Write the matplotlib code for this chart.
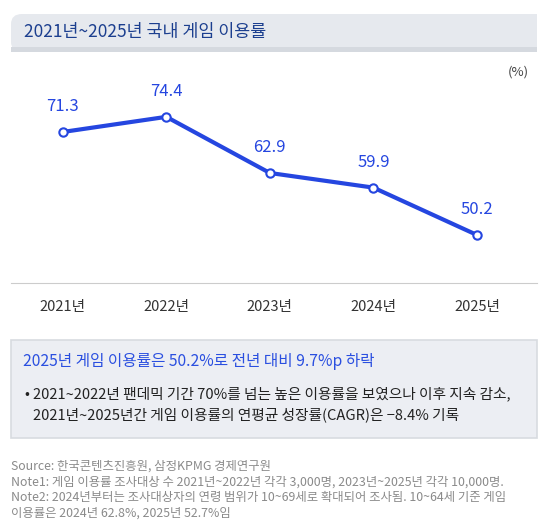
import matplotlib
matplotlib.use("Agg")
import matplotlib.pyplot as plt
from matplotlib.patches import FancyBboxPatch, Rectangle

plt.rcParams['font.family'] = ['Noto Sans CJK KR', 'DejaVu Sans']

years = ["2021년", "2022년", "2023년", "2024년", "2025년"]
values = [71.3, 74.4, 62.9, 59.9, 50.2]

W, H = 550, 528
fig = plt.figure(figsize=(5.5, 5.28), dpi=100)
fig.patch.set_facecolor("white")

def fx(x): return x / W
def fy(y): return 1 - y / H

# title bar
fig.patches.append(FancyBboxPatch((fx(11), fy(52)), fx(526), 38 / H,
    boxstyle="round,pad=0,rounding_size=0.02", transform=fig.transFigure,
    facecolor="#e6e9ee", edgecolor="none", mutation_aspect=0.96))
fig.patches.append(Rectangle((fx(500), fy(52)), fx(37), 38 / H, transform=fig.transFigure,
    facecolor="#e6e9ee", edgecolor="none"))
fig.patches.append(Rectangle((fx(11), fy(52)), fx(526), 5 / H, transform=fig.transFigure,
    facecolor="#d5d9df", edgecolor="none"))
fig.text(fx(24), fy(32), "2021년~2025년 국내 게임 이용률", fontsize=12.5, color="#1c3f8f",
         va="center", ha="left", fontweight="medium")

# chart
ax = fig.add_axes([fx(11), fy(283), fx(526), 193 / H])
ax.plot(range(len(values)), values, color="#2546e0", lw=3, marker="o", ms=6,
        mfc="white", mec="#2546e0", mew=1.5, zorder=3)
for i, v in enumerate(values):
    ax.text(i, v + 5.2, f"{v}", ha="center", va="center", fontsize=12, color="#2546e0")
ax.set_xlim(-0.5, 4.58)
ax.set_ylim(40.36, 79.9)
ax.set_yticks([])
ax.set_xticks(range(len(years)))
ax.set_xticklabels(years, fontsize=10.5, color="#333333")
ax.tick_params(axis="x", length=0, pad=12)
for s in ["top", "right", "left"]:
    ax.spines[s].set_visible(False)
ax.spines["bottom"].set_color("#cccccc")
ax.patch.set_alpha(0)
fig.text(fx(518), fy(72), "(%)", fontsize=9.5, color="#444444", ha="center", va="center")

# summary box
fig.patches.append(Rectangle((fx(11), fy(438)), fx(526), 98 / H, transform=fig.transFigure,
    facecolor="#eceef3", edgecolor="#d8dbe0", lw=1.2))
fig.text(fx(23), fy(361), "2025년 게임 이용률은 50.2%로 전년 대비 9.7%p 하락", fontsize=11.3,
         color="#2a4fe0", va="center", ha="left")
fig.text(fx(24), fy(394), "•", fontsize=10.5, color="#222222", va="center")
fig.text(fx(33), fy(394), "2021~2022년 팬데믹 기간 70%를 넘는 높은 이용률을 보였으나 이후 지속 감소,",
         fontsize=10.6, color="#222222", va="center")
fig.text(fx(33), fy(415), "2021년~2025년간 게임 이용률의 연평균 성장률(CAGR)은 −8.4% 기록",
         fontsize=10.6, color="#222222", va="center")

notes = ["Source: 한국콘텐츠진흥원, 삼정KPMG 경제연구원",
         "Note1: 게임 이용률 조사대상 수 2021년~2022년 각각 3,000명, 2023년~2025년 각각 10,000명.",
         "Note2: 2024년부터는 조사대상자의 연령 범위가 10~69세로 확대되어 조사됨. 10~64세 기준 게임",
         "이용률은 2024년 62.8%, 2025년 52.7%임"]
for i, n in enumerate(notes):
    fig.text(fx(11), fy(466 + i * 15.7), n, fontsize=8.9, color="#8a8a8a", va="center")

fig.savefig("out.png", dpi=100)
